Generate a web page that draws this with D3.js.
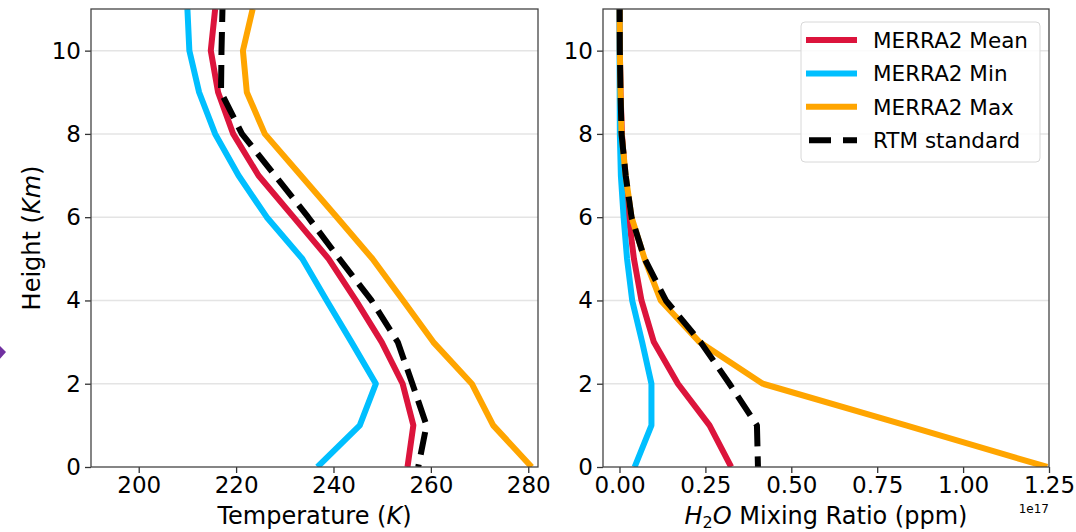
<!DOCTYPE html>
<html>
<head>
<meta charset="utf-8">
<script src="https://cdn.jsdelivr.net/npm/d3@7"></script>
<style>
  body { margin: 0; background: #fff; }
  text { font-family: "DejaVu Sans", sans-serif; fill: #000; }
</style>
</head>
<body>
<script>
// heights (km) of the profile levels
var heights = [0, 1, 2, 3, 4, 5, 6, 7, 8, 9, 10, 11];

// temperature profiles (K)
var tempMean = [255.2, 256.4, 254.2, 249.9, 244.6, 239.0, 231.8, 224.6, 219.4, 216.3, 214.8, 215.7];
var tempMin  = [236.7, 245.4, 248.7, 243.7, 238.6, 233.6, 226.3, 220.5, 215.7, 212.4, 210.4, 210.0];
var tempMax  = [280.7, 272.8, 268.4, 260.5, 254.3, 248.0, 240.7, 233.3, 225.9, 222.2, 221.4, 223.4];
var tempStd  = [257.4, 259.1, 256.2, 253.2, 247.8, 241.2, 234.8, 228.0, 221.2, 216.9, 217.0, 217.2];

// H2O mixing ratio profiles (x 1e17)
var h2oMean = [0.325, 0.262, 0.170, 0.100, 0.064, 0.042, 0.027, 0.016, 0.007, 0.003, 0.001, 0.0005];
var h2oMin  = [0.044, 0.093, 0.093, 0.066, 0.037, 0.022, 0.012, 0.004, 0.001, 0.0005, 0.0002, 0.0001];
var h2oMax  = [1.245, 0.834, 0.417, 0.233, 0.120, 0.073, 0.035, 0.018, 0.006, 0.003, 0.001, 0.0005];
var h2oStd  = [0.403, 0.400, 0.320, 0.236, 0.135, 0.073, 0.035, 0.018, 0.006, 0.003, 0.001, 0.0005];

var seriesNames = ["MERRA2 Mean", "MERRA2 Min", "MERRA2 Max", "RTM standard"];

var heightTicks = [0, 2, 4, 6, 8, 10];
var tempTicks = [200, 220, 240, 260, 280];
var h2oTicks = [0, 0.25, 0.5, 0.75, 1.0, 1.25];

var colors = ["#dc143c", "#00bfff", "#ffa500", "#000000"];

var svg = d3.select("body")
        .append("svg")
        .attr("width", 1076)
        .attr("height", 532)
        .style("background-color", "white");

// small purple diamond from the slide behind the figure
svg.append("path")
        .attr("d", "M-8,352 L-1,345 L6,352 L-1,360 Z")
        .attr("fill", "#7030a0");

var plotTop = 9, plotBottom = 467;

function drawPanel(left, right, xDomain, xTicks, xFormat, series, id) {
    var x = d3.scaleLinear().domain(xDomain).range([left, right]);
    var y = d3.scaleLinear().domain([0, 11]).range([plotBottom, plotTop]);

    svg.append("clipPath").attr("id", id)
            .append("rect")
            .attr("x", left).attr("y", plotTop)
            .attr("width", right - left).attr("height", plotBottom - plotTop);

    // horizontal grid
    svg.append("g").selectAll("line")
            .data(heightTicks.slice(1))
            .enter()
            .append("line")
            .attr("x1", left).attr("x2", right)
            .attr("y1", function(d){ return y(d); })
            .attr("y2", function(d){ return y(d); })
            .attr("stroke", "#e4e4e4")
            .attr("stroke-width", 1.5);

    var line = d3.line()
            .x(function(d){ return x(d[0]); })
            .y(function(d){ return y(d[1]); });

    var g = svg.append("g").attr("clip-path", "url(#" + id + ")");
    series.forEach(function(vals, i){
        // profiles run from the top down
        var pts = heights.map(function(h, j){ return [vals[j], h]; }).reverse();
        g.append("path")
                .attr("d", line(pts))
                .attr("fill", "none")
                .attr("stroke", colors[i])
                .attr("stroke-width", 6)
                .attr("stroke-linejoin", "round")
                .attr("stroke-dasharray", i == 3 ? "23,10" : null)
                .attr("stroke-dashoffset", i == 3 ? 10 : null);
    });

    var xAxis = svg.append("g")
            .attr("transform", "translate(0," + plotBottom + ")")
            .call(d3.axisBottom(x).tickValues(xTicks).tickFormat(xFormat)
                    .tickSize(6).tickPadding(3.5));
    var yAxis = svg.append("g")
            .attr("transform", "translate(" + left + ",0)")
            .call(d3.axisLeft(y).tickValues(heightTicks).tickFormat(d3.format("d"))
                    .tickSize(6).tickPadding(4));
    [xAxis, yAxis].forEach(function(a){
        a.select(".domain").remove();
        a.selectAll(".tick line").attr("stroke", "#333").attr("stroke-width", 1.3);
        a.selectAll(".tick text")
                .attr("font-size", "23px")
                .attr("font-family", "DejaVu Sans, sans-serif")
                .attr("fill", "#000");
    });

    // frame
    svg.append("rect")
            .attr("x", left).attr("y", plotTop)
            .attr("width", right - left).attr("height", plotBottom - plotTop)
            .attr("fill", "none")
            .attr("stroke", "#444")
            .attr("stroke-width", 1.3);
}

drawPanel(91, 538, [190.2, 282.0], tempTicks, d3.format("d"),
        [tempMean, tempMin, tempMax, tempStd], "clipL");
drawPanel(603, 1049, [-0.048, 1.25], h2oTicks, d3.format(".2f"),
        [h2oMean, h2oMin, h2oMax, h2oStd], "clipR");

// axis labels
var t1 = svg.append("text")
        .attr("x", 314.5).attr("y", 524)
        .attr("text-anchor", "middle")
        .attr("font-size", "24px");
t1.append("tspan").text("Temperature (");
t1.append("tspan").attr("font-style", "italic").text("K");
t1.append("tspan").text(")");

var t2 = svg.append("text")
        .attr("x", 826).attr("y", 524)
        .attr("text-anchor", "middle")
        .attr("font-size", "24px");
t2.append("tspan").attr("font-style", "italic").text("H");
t2.append("tspan").attr("font-size", "16px").attr("dy", 3.5).text("2");
t2.append("tspan").attr("font-style", "italic").attr("dy", -3.5).text("O");
t2.append("tspan").text(" Mixing Ratio (ppm)");

var t3 = svg.append("text")
        .attr("transform", "translate(40,238) rotate(-90)")
        .attr("text-anchor", "middle")
        .attr("font-size", "24px");
t3.append("tspan").text("Height (");
t3.append("tspan").attr("font-style", "italic").text("Km");
t3.append("tspan").text(")");

svg.append("text")
        .attr("x", 1049).attr("y", 513)
        .attr("text-anchor", "end")
        .attr("font-size", "12px")
        .text("1e17");

// legend
var legend = svg.append("g");
legend.append("rect")
        .attr("x", 801).attr("y", 22)
        .attr("width", 239).attr("height", 140)
        .attr("rx", 4)
        .attr("fill", "white")
        .attr("fill-opacity", 0.85)
        .attr("stroke", "#d8d8d8")
        .attr("stroke-width", 1);

var items = legend.selectAll("g.item")
        .data(seriesNames)
        .enter()
        .append("g")
        .attr("class", "item")
        .attr("transform", function(d, i){ return "translate(0," + (40 + i * 33.4) + ")"; });
items.append("line")
        .attr("x1", function(d, i){ return i == 3 ? 809 : 806; })
        .attr("x2", 857)
        .attr("stroke", function(d, i){ return colors[i]; })
        .attr("stroke-width", 6)
        .attr("stroke-dasharray", function(d, i){ return i == 3 ? "22,12" : null; });
items.append("text")
        .attr("x", 873)
        .attr("dy", "0.36em")
        .attr("font-size", "21.5px")
        .text(function(d){ return d; });
</script>
</body>
</html>
